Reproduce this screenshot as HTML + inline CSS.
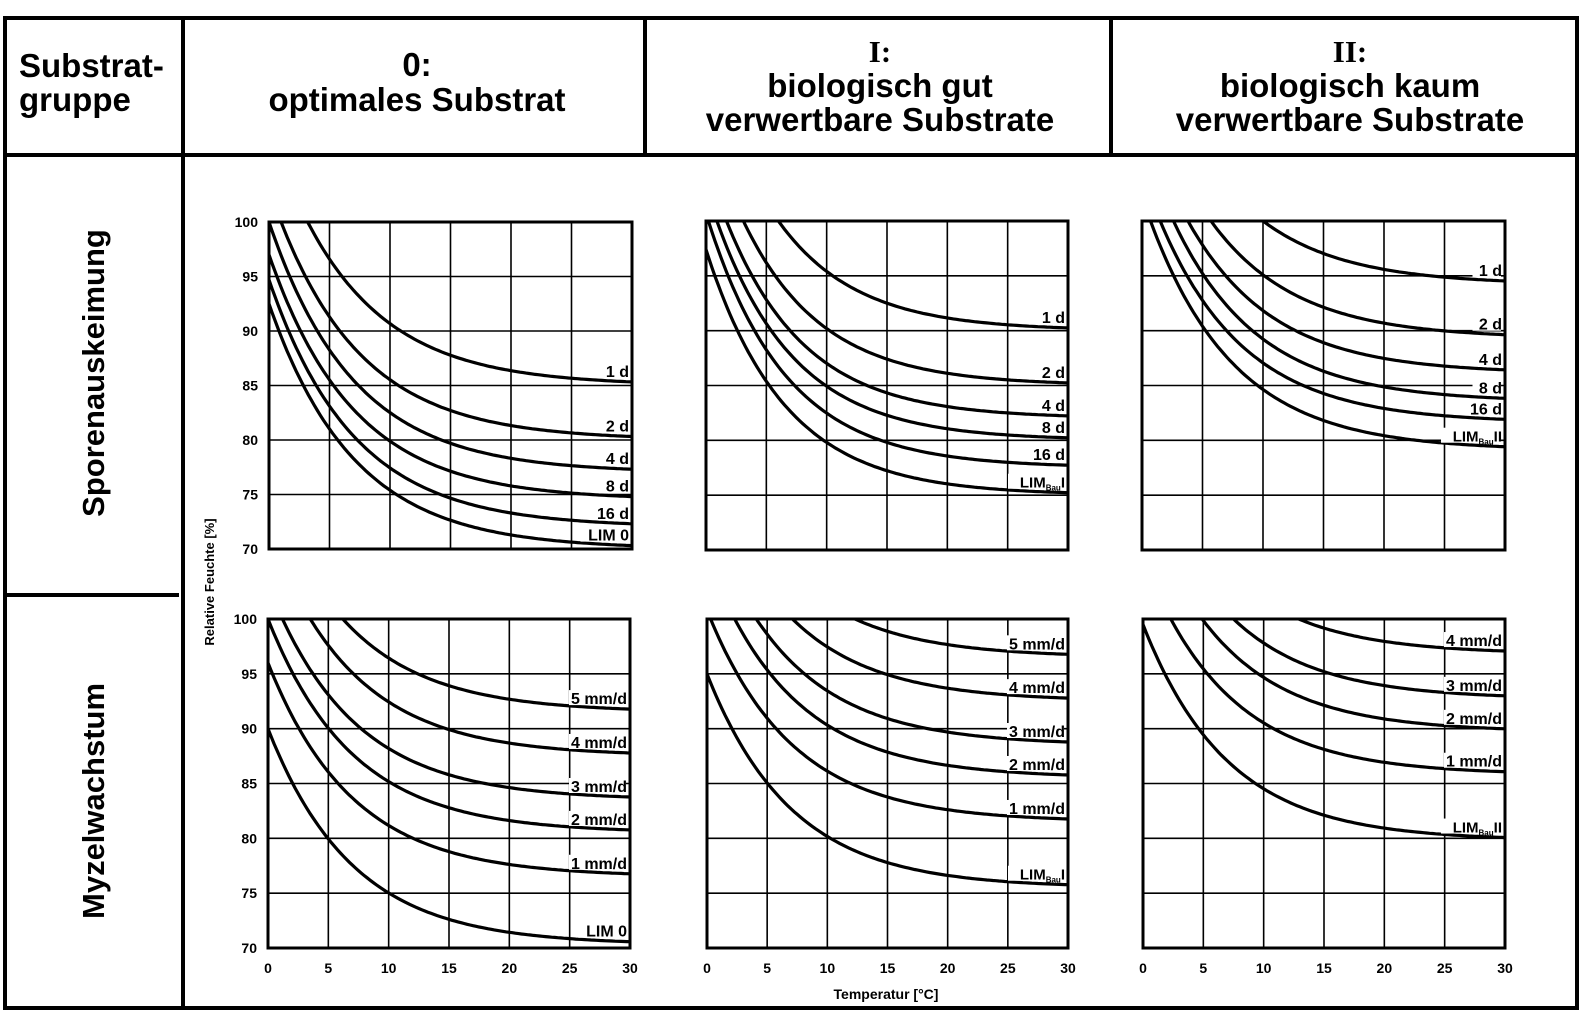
<!DOCTYPE html>
<html><head><meta charset="utf-8"><style>
html,body{margin:0;padding:0;background:#fff;}
svg{display:block;font-family:"Liberation Sans",Arial,sans-serif;}
</style></head><body>
<svg id="s" width="1595" height="1012" viewBox="0 0 1595 1012" xmlns="http://www.w3.org/2000/svg">
<rect x="0" y="0" width="1595" height="1012" fill="#fff"/>
<rect x="5" y="18" width="1572" height="990" fill="none" stroke="#000" stroke-width="4"/>
<line x1="183" y1="18" x2="183" y2="1008" stroke="#000" stroke-width="4"/>
<line x1="5" y1="155" x2="1577" y2="155" stroke="#000" stroke-width="4"/>
<line x1="645" y1="18" x2="645" y2="155" stroke="#000" stroke-width="4"/>
<line x1="1111" y1="18" x2="1111" y2="155" stroke="#000" stroke-width="4"/>
<line x1="5" y1="595" x2="179" y2="595" stroke="#000" stroke-width="4"/>
<g font-weight="bold" font-size="33" fill="#000">
<text x="19" y="77">Substrat-</text>
<text x="19" y="111">gruppe</text>
<text x="417" y="76" text-anchor="middle">0:</text>
<text x="417" y="111" text-anchor="middle">optimales Substrat</text>
<text x="880" y="62" text-anchor="middle" font-family="Liberation Serif,serif" font-size="31">I:</text>
<text x="880" y="97" text-anchor="middle">biologisch gut</text>
<text x="880" y="131" text-anchor="middle">verwertbare Substrate</text>
<text x="1350" y="62" text-anchor="middle" font-family="Liberation Serif,serif" font-size="31">II:</text>
<text x="1350" y="97" text-anchor="middle">biologisch kaum</text>
<text x="1350" y="131" text-anchor="middle">verwertbare Substrate</text>
<text transform="translate(104,373) rotate(-90)" text-anchor="middle" font-size="31">Sporenauskeimung</text>
<text transform="translate(104,801) rotate(-90)" text-anchor="middle" font-size="31">Myzelwachstum</text>
</g>
<g font-weight="bold" font-size="13" fill="#000">
<text transform="translate(214,582) rotate(-90)" text-anchor="middle">Relative Feuchte [%]</text>
<text x="886" y="999" text-anchor="middle" font-size="14">Temperatur [°C]</text>
</g>
<g id="charts"></g>
</svg>
<script>
var NS="http://www.w3.org/2000/svg";
var g=document.getElementById("charts");
function el(t,a,txt){var e=document.createElementNS(NS,t);for(var k in a)e.setAttribute(k,a[k]);if(txt!==undefined)e.textContent=txt;g.appendChild(e);return e;}
function chart(L,T,R,B,curves,opt){
  var sx=(R-L)/30, sy=(B-T)/30;
  function X(t){return L+t*sx;} function Y(v){return B-(v-70)*sy;}
  for(var i=1;i<6;i++){
    el("line",{x1:X(i*5),y1:T,x2:X(i*5),y2:B,stroke:"#000","stroke-width":1.6});
    el("line",{x1:L,y1:Y(70+i*5),x2:R,y2:Y(70+i*5),stroke:"#000","stroke-width":1.6});
  }
  curves.forEach(function(c){
    var tau=c.tau||7, y0=c.y0;
    if(y0===undefined) y0=c.A+(100-c.A)*Math.exp(c.T0/tau);
    var d="",first=true;
    for(var t=0;t<=30.001;t+=0.25){
      var v=c.A+(y0-c.A)*Math.exp(-t/tau);
      if(v>100){continue;}
      if(first&&t>0){
        var tc=tau*Math.log((y0-c.A)/(100-c.A));
        d+="M"+X(tc).toFixed(1)+","+Y(100).toFixed(1);first=false;
      }
      d+=(first?"M":"L")+X(t).toFixed(1)+","+Y(v).toFixed(1);first=false;
    }
    el("path",{d:d,fill:"none",stroke:"#000","stroke-width":3.2});
    var ly=Y(c.A+(y0-c.A)*Math.exp(-30/tau))-5;
    var w=c.w||c.label.length*9.5;
    el("rect",{x:R-4-w,y:ly-14,width:w,height:15,fill:"#fff"});
    if(c.sub){
      var tx=el("text",{x:R-3,y:ly,"text-anchor":"end","font-weight":"bold","font-size":15});
      var a=document.createElementNS(NS,"tspan");a.textContent="LIM";tx.appendChild(a);
      var b=document.createElementNS(NS,"tspan");b.setAttribute("font-size","8");b.setAttribute("dy","3");b.textContent="Bau";tx.appendChild(b);
      var cc=document.createElementNS(NS,"tspan");cc.setAttribute("dy","-3");cc.textContent=c.sub;tx.appendChild(cc);
    } else el("text",{x:R-3,y:ly,"text-anchor":"end","font-weight":"bold","font-size":16},c.label);
  });
  el("rect",{x:L,y:T,width:R-L,height:B-T,fill:"none",stroke:"#000","stroke-width":3});
  if(opt.yt){for(var v=70;v<=100;v+=5) el("text",{x:L-11,y:Y(v)+5,"text-anchor":"end","font-weight":"bold","font-size":14},String(v));}
  if(opt.xt){for(var t=0;t<=30;t+=5) el("text",{x:X(t),y:B+25,"text-anchor":"middle","font-weight":"bold","font-size":14},String(t));}
}
chart(269,222,632,549,[
 {A:85,T0:3.2,label:"1 d"},{A:80,T0:1,label:"2 d"},{A:77,y0:100,label:"4 d"},
 {A:74.5,y0:97,label:"8 d"},{A:72,y0:94.7,label:"16 d"},{A:70,y0:92.5,label:"LIM 0"}],{yt:1});
chart(706,221,1068,550,[
 {A:90,T0:6,tau:6.5,label:"1 d"},{A:85,T0:3.1,tau:6.5,label:"2 d"},{A:82,T0:1.7,tau:6.5,label:"4 d"},
 {A:80,T0:0.9,tau:6.5,label:"8 d"},{A:77.5,T0:0.2,tau:6.5,label:"16 d"},{A:75,y0:97.4,tau:6.5,label:"LIMBauI",sub:"I",w:56}],{});
chart(1142,221,1505,550,[
 {A:94.2,T0:10,label:"1 d"},{A:89.3,T0:5.7,label:"2 d"},{A:86.1,T0:3.8,label:"4 d"},
 {A:83.5,T0:2.6,label:"8 d"},{A:81.6,T0:1.5,label:"16 d"},{A:79.1,T0:0.7,label:"LIMBauII",sub:"II",w:60}],{});
chart(268,619,630,948,[
 {A:91.5,T0:6.2,label:"5 mm/d"},{A:87.5,T0:3.5,label:"4 mm/d"},{A:83.5,T0:1.2,label:"3 mm/d"},
 {A:80.5,y0:100,label:"2 mm/d"},{A:76.5,y0:96,label:"1 mm/d"},{A:70.3,y0:90,label:"LIM 0"}],{yt:1,xt:1});
chart(707,619,1068,948,[
 {A:96.5,T0:12.3,label:"5 mm/d"},{A:92.5,T0:7.1,label:"4 mm/d"},{A:88.5,T0:4.1,label:"3 mm/d"},
 {A:85.5,T0:2.3,label:"2 mm/d"},{A:81.5,T0:0.3,label:"1 mm/d"},{A:75.5,y0:95,label:"LIMBauI",sub:"I",w:56}],{xt:1});
chart(1143,619,1505,948,[
 {A:96.8,T0:12.9,label:"4 mm/d"},{A:92.7,T0:7.5,label:"3 mm/d"},{A:89.7,T0:4.9,label:"2 mm/d"},
 {A:85.8,T0:2.3,label:"1 mm/d"},{A:79.8,y0:99.5,label:"LIMBauII",sub:"II",w:60}],{xt:1});
</script>
</body></html>
